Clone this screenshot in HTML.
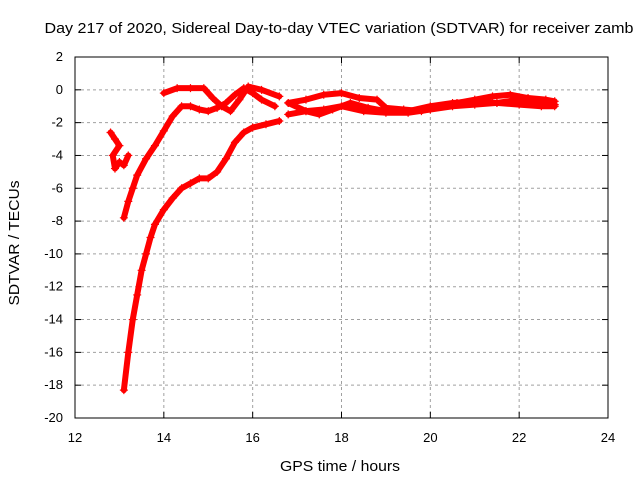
<!DOCTYPE html>
<html><head><meta charset="utf-8"><style>
body{margin:0;background:#fff;width:640px;height:480px;overflow:hidden}
svg{font-family:"Liberation Sans",sans-serif}
</style></head><body>
<svg width="640" height="480" id="c">
<text x="339" y="33" font-size="15" text-anchor="middle" textLength="589" lengthAdjust="spacingAndGlyphs">Day 217 of 2020, Sidereal Day-to-day VTEC variation (SDTVAR) for receiver zamb</text>
<text x="340" y="471" font-size="15" text-anchor="middle" textLength="120" lengthAdjust="spacingAndGlyphs">GPS time / hours</text>
<text x="19" y="243" font-size="15" text-anchor="middle" textLength="125" lengthAdjust="spacingAndGlyphs" transform="rotate(-90 19 243)">SDTVAR / TECUs</text>
<g id="grid"></g><g id="ticks"></g><g id="series"></g>
<rect x="75" y="57" width="533" height="361" fill="none" stroke="#000"/>
</svg>
<script>
const xTicks=[12,14,16,18,20,22,24];
const yTicks=[2,0,-2,-4,-6,-8,-10,-12,-14,-16,-18,-20];
const seriesA=[[13.1,-18.3],[13.2,-16],[13.3,-14],[13.4,-12.5],[13.5,-11],[13.6,-10],[13.7,-9],[13.8,-8.2],[14.0,-7.3],[14.2,-6.6],[14.4,-6.0],[14.6,-5.7],[14.8,-5.4],[15.0,-5.4],[15.2,-5.0],[15.4,-4.2],[15.6,-3.2],[15.8,-2.6],[16.0,-2.3],[16.3,-2.1],[16.6,-1.9]];
const seriesA2=[[16.8,-1.5],[17.2,-1.3],[17.6,-1.2],[18.0,-1.0],[18.5,-1.3],[19.0,-1.4],[19.5,-1.4],[20.0,-1.2],[20.5,-1.0],[21.0,-0.9],[21.5,-0.8],[22.0,-0.9],[22.5,-1.0],[22.8,-1.0]];
const seriesB=[[13.1,-7.8],[13.2,-6.8],[13.3,-6],[13.4,-5.2],[13.6,-4.2],[13.8,-3.4],[14.0,-2.5],[14.2,-1.6],[14.4,-1.0],[14.6,-1.0],[14.8,-1.2],[15.0,-1.3],[15.2,-1.1],[15.4,-0.8],[15.6,-0.3],[15.8,0.1],[16.0,-0.2],[16.2,-0.6],[16.5,-1.0]];
const seriesB2=[[16.8,-0.8],[17.2,-0.6],[17.6,-0.3],[18.0,-0.2],[18.4,-0.5],[18.8,-0.6],[19.0,-1.1],[19.4,-1.2],[19.8,-1.3],[20.2,-1.0],[20.6,-0.8],[21.0,-0.6],[21.4,-0.4],[21.8,-0.3],[22.2,-0.5],[22.6,-0.6],[22.8,-0.7]];
const seriesC=[[14.0,-0.2],[14.3,0.1],[14.6,0.1],[14.9,0.1],[15.1,-0.5],[15.3,-1.0],[15.5,-1.3],[15.7,-0.6],[15.9,0.2],[16.2,0],[16.6,-0.4]];
const seriesC2=[[16.8,-0.8],[17.2,-1.3],[17.5,-1.5],[17.8,-1.2],[18.2,-0.8],[18.6,-1.1],[19.0,-1.3],[19.5,-1.3],[20.0,-1.0],[20.5,-0.8],[21.0,-0.7],[21.5,-0.8],[22.0,-0.6],[22.4,-0.7],[22.8,-0.9]];
const seriesD=[[12.8,-2.6],[12.9,-3.0],[13.0,-3.4],[12.85,-4.0],[12.9,-4.8],[13.0,-4.4],[13.1,-4.6],[13.2,-4.0]];
const NS="http://www.w3.org/2000/svg";
const X=v=>75+(v-12)*533/12, Y=v=>57+(2-v)*361/22;
const grid=document.getElementById('grid'),ticks=document.getElementById('ticks'),ser=document.getElementById('series');
function mk(t,a,p){const e=document.createElementNS(NS,t);for(const k in a)e.setAttribute(k,a[k]);p.appendChild(e);return e;}
xTicks.forEach(v=>{
 if(v>12&&v<24){const g=mk('line',{x1:X(v),x2:X(v),y1:57,y2:418,stroke:'#a0a0a0','stroke-dasharray':'3,3'},grid);
 
 }
 mk('line',{x1:X(v),x2:X(v),y1:418,y2:412,stroke:'#000'},ticks);mk('line',{x1:X(v),x2:X(v),y1:57,y2:63,stroke:'#000'},ticks);
 const t=mk('text',{x:X(v),y:442,'font-size':13,'text-anchor':'middle'},ticks);t.textContent=v;
 
 
});
yTicks.forEach(v=>{
 if(v<2&&v>-20){const g=mk('line',{x1:75,x2:608,y1:Y(v),y2:Y(v),stroke:'#a0a0a0','stroke-dasharray':'3,3'},grid);
 
 }
 mk('line',{x1:75,x2:81,y1:Y(v),y2:Y(v),stroke:'#000'},ticks);mk('line',{x1:608,x2:602,y1:Y(v),y2:Y(v),stroke:'#000'},ticks);
 const t=mk('text',{x:63,y:Y(v)+4,'font-size':13,'text-anchor':'end'},ticks);t.textContent=v;
 
 
});
[seriesA,seriesA2,seriesB,seriesB2,seriesC,seriesC2,seriesD].forEach(s=>{
 const p=mk('polyline',{points:s.map(d=>X(d[0])+','+Y(d[1])).join(' '),fill:'none',stroke:'#f00','stroke-width':6,'stroke-linejoin':'round','stroke-linecap':'round'},ser);
 
 
 s.forEach(d=>{const x=X(d[0]),y=Y(d[1]);
  const m=mk('path',{d:`M${x-4},${y}h8M${x},${y-4}v8`,stroke:'#f00','stroke-width':1.2},ser);
  
  });
});
</script>
</body></html>
